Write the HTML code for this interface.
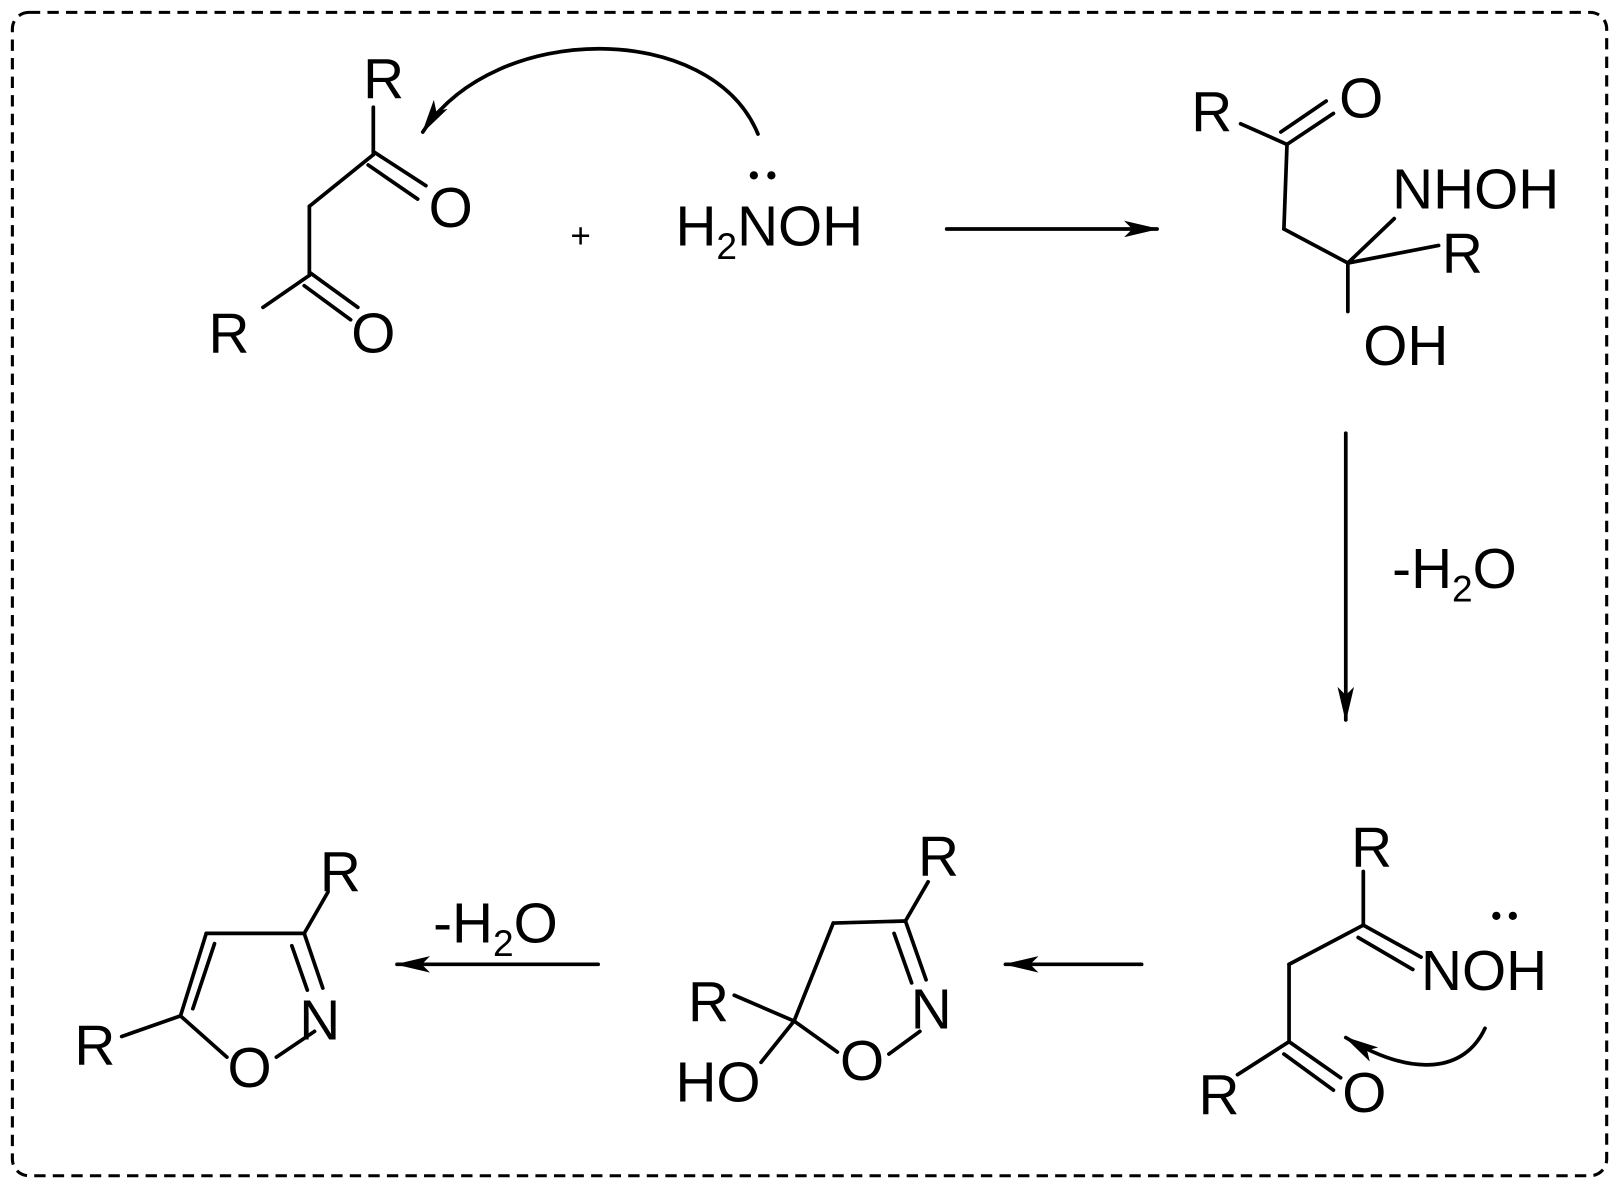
<!DOCTYPE html>
<html><head><meta charset="utf-8"><style>
html,body{margin:0;padding:0;background:#fff;}
svg{display:block;}
text{font-family:"Liberation Sans",Arial,sans-serif;fill:#000;}
</style></head><body>
<svg width="1617" height="1184" viewBox="0 0 1568 1148" preserveAspectRatio="none" xmlns="http://www.w3.org/2000/svg">
<defs>
<marker id="ah" viewBox="0 0 34 16" refX="32" refY="8" markerWidth="34" markerHeight="16" markerUnits="userSpaceOnUse" orient="auto">
<path d="M0,0 L34,8 L0,16 L8,8 Z" fill="#000"/></marker>
</defs>
<rect x="12" y="12" width="1546" height="1128" rx="16" ry="16" fill="none" stroke="#000" stroke-width="3" stroke-dasharray="11,7"/>
<g stroke="#000" stroke-width="3.6" fill="none" stroke-linecap="round">
<!-- mol1 -->
<line x1="362" y1="104" x2="362" y2="150"/>
<line x1="362" y1="147" x2="413" y2="180"/>
<line x1="357" y1="160" x2="405" y2="193"/>
<line x1="362" y1="150" x2="300" y2="200"/>
<line x1="300" y1="200" x2="300" y2="267"/>
<line x1="300" y1="264" x2="347" y2="298"/>
<line x1="295" y1="277" x2="340" y2="310"/>
<line x1="300" y1="267" x2="255" y2="298"/>
<path d="M735,130 C690,20 480,20 410,128" marker-end="url(#ah)"/>
<!-- arrow1 -->
<line x1="918" y1="222" x2="1122" y2="222" marker-end="url(#ah)"/>
<!-- mol2 -->
<line x1="1203" y1="120" x2="1248" y2="140"/>
<line x1="1248" y1="140" x2="1293" y2="110"/>
<line x1="1242" y1="128" x2="1286" y2="98"/>
<line x1="1248" y1="140" x2="1245" y2="222"/>
<line x1="1245" y1="222" x2="1307" y2="255"/>
<line x1="1307" y1="255" x2="1352" y2="212"/>
<line x1="1307" y1="255" x2="1395" y2="238"/>
<line x1="1307" y1="255" x2="1307" y2="302"/>
<!-- down arrow -->
<line x1="1305" y1="420" x2="1305" y2="698" marker-end="url(#ah)"/>
<!-- mol3 -->
<line x1="1322" y1="845" x2="1322" y2="897"/>
<line x1="1322" y1="897" x2="1378" y2="928"/>
<line x1="1317" y1="909" x2="1370" y2="940"/>
<line x1="1322" y1="897" x2="1250" y2="935"/>
<line x1="1250" y1="935" x2="1250" y2="1010"/>
<line x1="1250" y1="1010" x2="1200" y2="1042"/>
<line x1="1250" y1="1010" x2="1300" y2="1045"/>
<line x1="1245" y1="1022" x2="1293" y2="1057"/>
<path d="M1440,997 C1420,1040 1370,1045 1305,1006" marker-end="url(#ah)"/>
<!-- arrow2 -->
<line x1="1107" y1="935" x2="975" y2="935" marker-end="url(#ah)"/>
<!-- mol4 -->
<line x1="808" y1="895" x2="878" y2="893"/>
<line x1="878" y1="893" x2="900" y2="855"/>
<line x1="878" y1="893" x2="898" y2="950"/>
<line x1="867" y1="905" x2="884" y2="953"/>
<line x1="892" y1="1000" x2="862" y2="1022"/>
<line x1="812" y1="1020" x2="770" y2="990"/>
<line x1="770" y1="990" x2="808" y2="895"/>
<line x1="770" y1="990" x2="712" y2="965"/>
<line x1="770" y1="990" x2="738" y2="1030"/>
<!-- arrow3 -->
<line x1="580" y1="935" x2="385" y2="935" marker-end="url(#ah)"/>
<!-- mol5 -->
<line x1="295" y1="905" x2="318" y2="865"/>
<line x1="200" y1="905" x2="295" y2="905"/>
<line x1="295" y1="905" x2="313" y2="958"/>
<line x1="283" y1="917" x2="298" y2="960"/>
<line x1="305" y1="1000" x2="268" y2="1025"/>
<line x1="220" y1="1025" x2="175" y2="985"/>
<line x1="175" y1="985" x2="200" y2="905"/>
<line x1="187" y1="978" x2="208" y2="915"/>
<line x1="175" y1="985" x2="118" y2="1005"/>
</g>
<g font-size="55">
<text x="372" y="95" text-anchor="middle">R</text>
<text x="437" y="220" text-anchor="middle">O</text>
<text x="222" y="342" text-anchor="middle">R</text>
<text x="362" y="342" text-anchor="middle">O</text>
<text x="563" y="240" text-anchor="middle" font-size="34">+</text>
<text x="655" y="238">H<tspan font-size="36" dy="13">2</tspan><tspan dy="-13">NOH</tspan></text>
<circle cx="731" cy="170" r="4"/><circle cx="748" cy="170" r="4"/>
<text x="1175" y="127" text-anchor="middle">R</text>
<text x="1320" y="114" text-anchor="middle">O</text>
<text x="1350" y="202">NHOH</text>
<text x="1418" y="264" text-anchor="middle">R</text>
<text x="1322" y="354">OH</text>
<text x="1350" y="570">-H<tspan font-size="36" dy="13">2</tspan><tspan dy="-13">O</tspan></text>
<text x="1330" y="840" text-anchor="middle">R</text>
<text x="1378" y="960">NOH</text>
<circle cx="1451" cy="888" r="4"/><circle cx="1467" cy="888" r="4"/>
<text x="1182" y="1080" text-anchor="middle">R</text>
<text x="1323" y="1078" text-anchor="middle">O</text>
<text x="910" y="849" text-anchor="middle">R</text>
<text x="903" y="997" text-anchor="middle">N</text>
<text x="836" y="1047" text-anchor="middle">O</text>
<text x="687" y="990" text-anchor="middle">R</text>
<text x="655" y="1068">HO</text>
<text x="420" y="914">-H<tspan font-size="36" dy="13">2</tspan><tspan dy="-13">O</tspan></text>
<text x="330" y="864" text-anchor="middle">R</text>
<text x="310" y="1008" text-anchor="middle">N</text>
<text x="242" y="1054" text-anchor="middle">O</text>
<text x="92" y="1032" text-anchor="middle">R</text>
</g>
</svg>
</body></html>
